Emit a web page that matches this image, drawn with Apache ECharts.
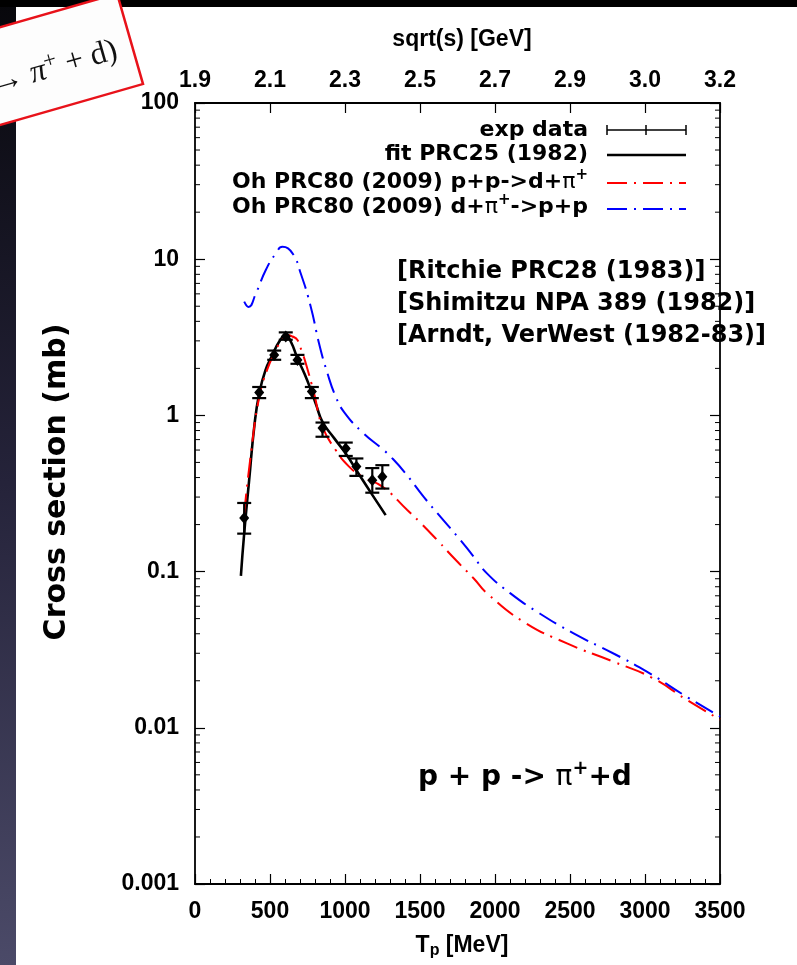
<!DOCTYPE html>
<html><head><meta charset="utf-8">
<script src="https://cdn.jsdelivr.net/npm/echarts@6/dist/echarts.min.js"></script>
<style>html,body{margin:0;padding:0;background:#fff}#c{width:797px;height:965px}</style>
</head><body><div id="c"></div>
<script>
// ---- data ----
const expT  = [328, 428, 528, 605, 683, 779, 850, 1005, 1076, 1182, 1249];
const expV  = [0.22, 1.40, 2.44, 3.20, 2.26, 1.42, 0.83, 0.615, 0.47, 0.385, 0.405];
const expLo = [0.175, 1.29, 2.27, 3.05, 2.14, 1.29, 0.73, 0.55, 0.41, 0.32, 0.34];
const expHi = [0.275, 1.52, 2.60, 3.40, 2.44, 1.52, 0.90, 0.67, 0.53, 0.46, 0.48];

const fitT = [306, 328, 361, 395, 428, 470, 517, 560, 605, 640, 683, 730, 772, 810, 850, 930, 1005, 1093, 1182, 1271];
const fitV = [0.094, 0.176, 0.385, 0.845, 1.38, 1.95, 2.44, 2.95, 3.27, 2.95, 2.32, 1.85, 1.46, 1.15, 0.91, 0.71, 0.57, 0.42, 0.31, 0.23];

const redT = [328, 373, 428, 480, 539, 580, 617, 650, 683, 710, 739, 794, 850, 938, 1027, 1116, 1249, 1415, 1504, 1615, 1737, 1860, 1948, 2191, 2480, 2790, 3056, 3278, 3500];
const redV = [0.236, 0.57, 1.31, 1.95, 2.62, 3.05, 3.27, 3.2, 3.04, 2.6, 2.15, 1.38, 0.845, 0.60, 0.47, 0.405, 0.35, 0.248, 0.205, 0.159, 0.119, 0.090, 0.0724, 0.0477, 0.0347, 0.0265, 0.0207, 0.0151, 0.0113];

const blueT = [328, 357, 406, 472, 539, 583, 650, 705, 772, 827, 883, 938, 994, 1116, 1249, 1304, 1400, 1526, 1637, 1770, 1848, 1948, 2103, 2280, 2524, 2790, 3012, 3278, 3500];
const blueV = [5.35, 4.95, 6.05, 8.53, 10.9, 12.0, 10.9, 8.1, 4.95, 2.89, 1.86, 1.32, 1.05, 0.78, 0.61, 0.545, 0.43, 0.30, 0.224, 0.159, 0.128, 0.097, 0.0725, 0.0553, 0.0402, 0.0299, 0.0229, 0.0158, 0.0118];

const topLabels = ['1.9', '2.1', '2.3', '2.5', '2.7', '2.9', '3.0', '3.2'];
const yLabels = ['0.001', '0.01', '0.1', '1', '10', '100'];
const legendNames = ['exp data', 'fit PRC25 (1982)', 'Oh PRC80 (2009) p+p->d+', 'Oh PRC80 (2009) d+'];
const refLines = ['[Ritchie PRC28 (1983)]', '[Shimitzu NPA 389 (1982)]', '[Arndt, VerWest (1982-83)]'];

// ---- build ----
const zip = (a, b) => a.map((v, i) => [v, b[i]]);
const minorTicks = [];
for (let d = -3; d <= 1; d++) for (let m = 2; m <= 9; m++) minorTicks.push([0, m * Math.pow(10, d)]);

const FONT = "'Liberation Sans', Arial, sans-serif";
const DJ = "'DejaVu Sans', sans-serif";
const axisCol = '#000';
const dashDot = [20, 7, 2, 7];

const chart = echarts.init(document.getElementById('c'), null, {renderer: 'canvas'});
const lbl = {color: '#000', fontFamily: FONT, fontWeight: 'bold', fontSize: 23};

const legRich = {
  a: {fontFamily: DJ, fontWeight: 'bold', fontSize: 22, lineHeight: 28, fill: '#000'},
  g: {fontFamily: DJ, fontSize: 22, lineHeight: 28, fill: '#000'},
  s: {fontFamily: DJ, fontWeight: 'bold', fontSize: 15, verticalAlign: 'top', fill: '#000'}
};

const option = {
  animation: false,
  backgroundColor: '#fff',
  grid: {left: 195, right: 77, top: 103, bottom: 81},
  xAxis: [
    {type: 'value', position: 'bottom', min: 0, max: 3500, interval: 500,
     axisLine: {show: true, onZero: false, lineStyle: {color: axisCol, width: 1.8}},
     axisTick: {show: true, inside: true, length: 10, lineStyle: {color: axisCol, width: 1.2}},
     minorTick: {show: true, splitNumber: 5, length: 5, lineStyle: {color: axisCol, width: 1}},
     splitLine: {show: false}, minorSplitLine: {show: false},
     axisLabel: Object.assign({margin: 16, formatter: v => String(v)}, lbl)},
    {type: 'value', position: 'top', min: 0, max: 3500, interval: 500,
     axisLine: {show: true, onZero: false, lineStyle: {color: axisCol, width: 1.8}},
     axisTick: {show: true, inside: true, length: 10, lineStyle: {color: axisCol, width: 1.2}},
     splitLine: {show: false},
     axisLabel: Object.assign({margin: 11, formatter: v => topLabels[Math.round(v / 500)]}, lbl)}
  ],
  yAxis: [
    {type: 'log', logBase: 10, position: 'left', min: 0.001, max: 100,
     axisLine: {show: true, onZero: false, lineStyle: {color: axisCol, width: 1.8}},
     axisTick: {show: true, inside: true, length: 10, lineStyle: {color: axisCol, width: 1.2}},
     splitLine: {show: false},
     axisLabel: Object.assign({margin: 16, formatter: v => yLabels[Math.round(Math.log10(v)) + 3]}, lbl)},
    {type: 'log', logBase: 10, position: 'right', min: 0.001, max: 100,
     axisLine: {show: true, onZero: false, lineStyle: {color: axisCol, width: 1.8}},
     axisTick: {show: true, inside: true, length: 10, lineStyle: {color: axisCol, width: 1.2}},
     splitLine: {show: false}, axisLabel: {show: false}}
  ],
  series: [
    {type: 'custom', xAxisIndex: 0, yAxisIndex: 0, silent: true, clip: false, data: minorTicks,
     renderItem: (params, api) => {
       const v = api.value(1);
       const pl = api.coord([0, v]);
       const pr = api.coord([3500, v]);
       return {type: 'group', children: [
         {type: 'line', shape: {x1: pl[0], y1: pl[1], x2: pl[0] + 5, y2: pl[1]}, style: {stroke: '#000', lineWidth: 1}},
         {type: 'line', shape: {x1: pr[0] - 5, y1: pr[1], x2: pr[0], y2: pr[1]}, style: {stroke: '#000', lineWidth: 1}}
       ]};
     }},
    {name: 'fit', type: 'line', data: zip(fitT, fitV), showSymbol: false, smooth: 0.5,
     lineStyle: {color: '#000', width: 2.6}, z: 3},
    {name: 'red', type: 'line', data: zip(redT, redV), showSymbol: false, smooth: 0.5,
     lineStyle: {color: '#ff0000', width: 2, type: dashDot}, z: 4},
    {name: 'blue', type: 'line', data: zip(blueT, blueV), showSymbol: false, smooth: 0.5,
     lineStyle: {color: '#0000ff', width: 2, type: dashDot}, z: 4},
    {type: 'custom', silent: true, z: 5,
     data: expT.map((t, i) => [t, expV[i], expLo[i], expHi[i]]),
     renderItem: (params, api) => {
       const t = api.value(0);
       const p = api.coord([t, api.value(1)]);
       const lo = api.coord([t, api.value(2)]);
       const hi = api.coord([t, api.value(3)]);
       const cw = 7, st = {stroke: '#000', lineWidth: 2.2};
       return {type: 'group', children: [
         {type: 'line', shape: {x1: p[0], y1: lo[1], x2: p[0], y2: hi[1]}, style: st},
         {type: 'line', shape: {x1: p[0] - cw, y1: lo[1], x2: p[0] + cw, y2: lo[1]}, style: st},
         {type: 'line', shape: {x1: p[0] - cw, y1: hi[1], x2: p[0] + cw, y2: hi[1]}, style: st},
         {type: 'polygon', shape: {points: [[p[0], p[1] - 6], [p[0] + 5, p[1]], [p[0], p[1] + 6], [p[0] - 5, p[1]]]}, style: {fill: '#000'}}
       ]};
     }}
  ],
  graphic: [
    // slide background pieces
    {type: 'rect', shape: {x: 0, y: 0, width: 16, height: 965}, z: 0,
     style: {fill: new echarts.graphic.LinearGradient(0, 0, 0, 1, [{offset: 0, color: '#07070b'}, {offset: 0.5, color: '#25233a'}, {offset: 1, color: '#4b4a68'}])}},
    {type: 'rect', shape: {x: 0, y: 0, width: 797, height: 7}, z: 0, style: {fill: '#000'}},
    // rotated red box
    {type: 'group', x: 143, y: 84, rotation: 16 * Math.PI / 180, z: 10, children: [
      {type: 'rect', shape: {x: -220, y: -94, width: 220, height: 94}, style: {fill: '#fdfdfd', stroke: '#e8121a', lineWidth: 2.5}},
      {type: 'text', x: -16, y: -40, style: {text: '{r|p → }{i|π}{s|+}{r| + d)}', align: 'right', verticalAlign: 'middle',
        rich: {r: {fontFamily: "'Liberation Serif', serif", fontSize: 32, lineHeight: 38, fill: '#111'},
               i: {fontFamily: "'Liberation Serif', serif", fontStyle: 'italic', fontSize: 32, lineHeight: 38, fill: '#111'},
               s: {fontFamily: "'Liberation Serif', serif", fontSize: 23, verticalAlign: 'top', fill: '#111'}}}}
    ]},
    // axis titles
    {type: 'text', x: 462, y: 40, z: 10, style: {text: 'sqrt(s) [GeV]', font: "bold 23px " + FONT, fill: '#000', align: 'center', verticalAlign: 'middle'}},
    {type: 'text', x: 462, y: 946, z: 10, style: {text: '{a|T}{b|p}{a| [MeV]}', align: 'center', verticalAlign: 'middle',
      rich: {a: {fontFamily: FONT, fontWeight: 'bold', fontSize: 23, lineHeight: 26, fill: '#000'},
             b: {fontFamily: FONT, fontWeight: 'bold', fontSize: 16, verticalAlign: 'bottom', fill: '#000'}}}},
    {type: 'text', x: 57, y: 482, rotation: Math.PI / 2, z: 10, style: {text: 'Cross section (mb)', font: "bold 30px " + DJ, fill: '#000', align: 'center', verticalAlign: 'middle'}},
    // legend
    {type: 'text', x: 588, y: 130, z: 10, style: {text: '{a|' + legendNames[0] + '}', align: 'right', verticalAlign: 'middle', rich: legRich}},
    {type: 'text', x: 588, y: 154, z: 10, style: {text: '{a|' + legendNames[1] + '}', align: 'right', verticalAlign: 'middle', rich: legRich}},
    {type: 'text', x: 588, y: 182, z: 10, style: {text: '{a|' + legendNames[2] + '}{g|π}{s|+}', align: 'right', verticalAlign: 'middle', rich: legRich}},
    {type: 'text', x: 588, y: 207, z: 10, style: {text: '{a|' + legendNames[3] + '}{g|π}{s|+}{a|->p+p}', align: 'right', verticalAlign: 'middle', rich: legRich}},
    {type: 'line', z: 10, shape: {x1: 607, y1: 130, x2: 686, y2: 130}, style: {stroke: '#000', lineWidth: 1.5}},
    {type: 'line', z: 10, shape: {x1: 607, y1: 125, x2: 607, y2: 135}, style: {stroke: '#000', lineWidth: 1.5}},
    {type: 'line', z: 10, shape: {x1: 646, y1: 125, x2: 646, y2: 135}, style: {stroke: '#000', lineWidth: 1.5}},
    {type: 'line', z: 10, shape: {x1: 686, y1: 125, x2: 686, y2: 135}, style: {stroke: '#000', lineWidth: 1.5}},
    {type: 'line', z: 10, shape: {x1: 607, y1: 155, x2: 686, y2: 155}, style: {stroke: '#000', lineWidth: 2.6}},
    {type: 'line', z: 10, shape: {x1: 607, y1: 183, x2: 686, y2: 183}, style: {stroke: '#ff0000', lineWidth: 2, lineDash: dashDot}},
    {type: 'line', z: 10, shape: {x1: 607, y1: 209, x2: 686, y2: 209}, style: {stroke: '#0000ff', lineWidth: 2, lineDash: dashDot}},
    // references
    {type: 'text', x: 397, y: 272, z: 10, style: {text: refLines[0], font: "bold 24px " + DJ, fill: '#000', align: 'left', verticalAlign: 'middle'}},
    {type: 'text', x: 397, y: 304, z: 10, style: {text: refLines[1], font: "bold 24px " + DJ, fill: '#000', align: 'left', verticalAlign: 'middle'}},
    {type: 'text', x: 397, y: 336, z: 10, style: {text: refLines[2], font: "bold 24px " + DJ, fill: '#000', align: 'left', verticalAlign: 'middle'}},
    // reaction label
    {type: 'text', x: 418, y: 778, z: 10, style: {text: '{a|p + p -> }{g|π}{s|+}{a|+d}', align: 'left', verticalAlign: 'middle',
      rich: {a: {fontFamily: DJ, fontWeight: 'bold', fontSize: 28, lineHeight: 36, fill: '#000'},
             g: {fontFamily: DJ, fontSize: 28, lineHeight: 36, fill: '#000'},
             s: {fontFamily: DJ, fontWeight: 'bold', fontSize: 19, verticalAlign: 'top', fill: '#000'}}}}
  ]
};
chart.setOption(option);
</script>
</body></html>
